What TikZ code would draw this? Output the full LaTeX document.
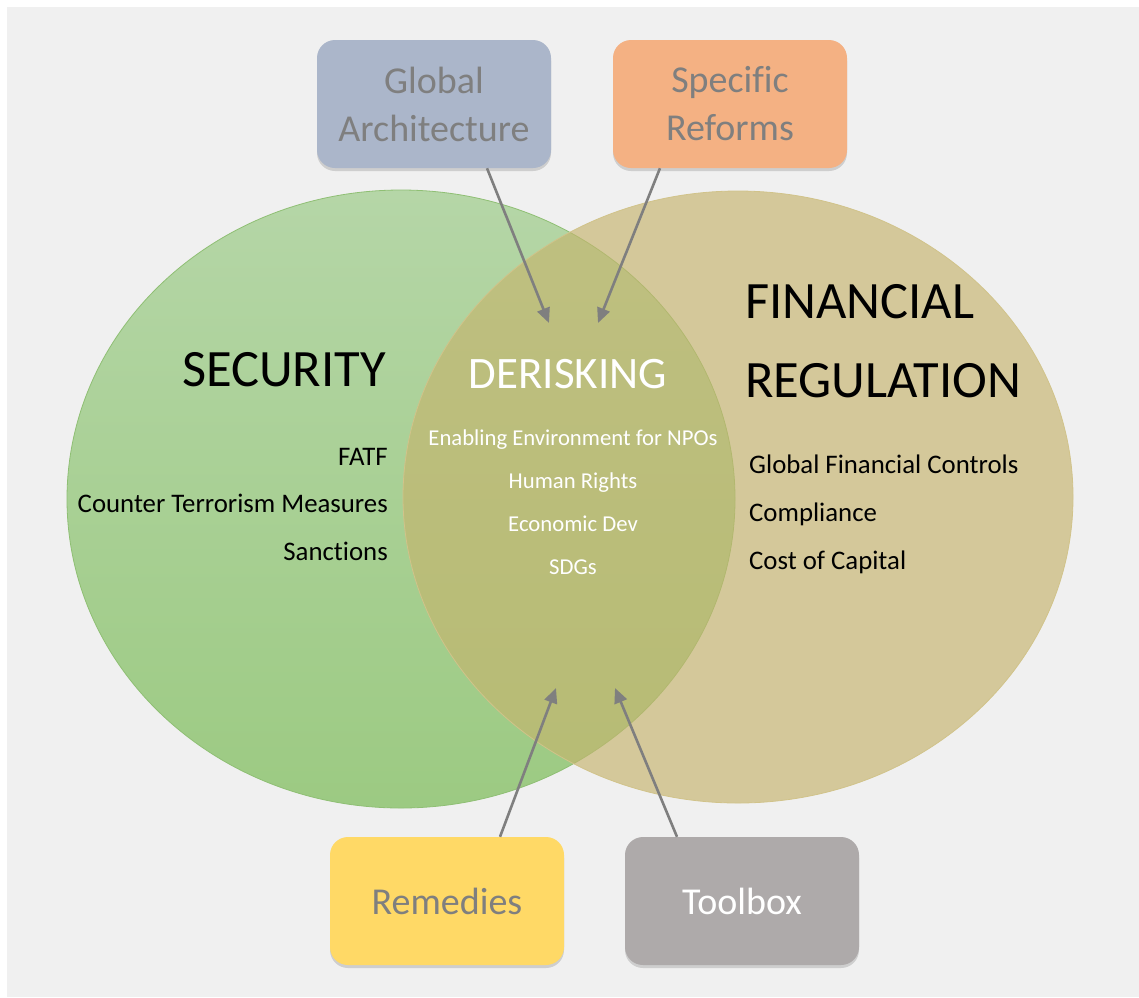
\documentclass[tikz,border=0pt]{standalone}
\usepackage{fontspec}
\setmainfont{Carlito}[Ligatures=NoCommon]
\usepackage{xcolor}
\usetikzlibrary{arrows.meta,shadows}

\definecolor{sectop}{HTML}{B5D6A7}
\definecolor{secbot}{HTML}{9CCA82}
\definecolor{secedge}{HTML}{8FBF74}
\definecolor{fintan}{HTML}{C5B46D}
\definecolor{bgray}{HTML}{F0F0F0}
\definecolor{archblue}{HTML}{ABB6CA}
\definecolor{reforange}{HTML}{F4B183}
\definecolor{remyellow}{HTML}{FFD966}
\definecolor{toolgray}{HTML}{AEAAAA}
\definecolor{txtgray}{HTML}{7F7F7F}

\tikzset{
  topicbox/.style={rounded corners=18pt, minimum width=234pt, minimum height=128pt,
    align=center, text=txtgray, font=\fontsize{38}{48}\selectfont,
    drop shadow={opacity=0.3, shadow xshift=0pt, shadow yshift=-3pt}},
  pointer/.style={draw=txtgray, line width=2.6pt, -{Triangle[length=15pt,width=13pt]}},
  bigword/.style={font=\fontsize{52.5}{52}\selectfont, inner sep=0pt},
  item/.style={font=\fontsize{26.8}{26}\selectfont, inner sep=0pt},
  smallitem/.style={font=\fontsize{22.7}{22}\selectfont, text=white, anchor=base, inner sep=0pt}
}

\begin{document}
\begin{tikzpicture}[x=1pt,y=-1pt]
			% fond
			\useasboundingbox (0,0) rectangle (1139,997);
			\fill[white] (0,0) rectangle (1139,997);
			\fill[bgray] (7,7) rectangle (1139,997);
			% les deux ellipses
			\shade[top color=sectop, bottom color=secbot, draw=secedge, line width=0.8pt]
			  (401,499) ellipse [x radius=334, y radius=309];
			\fill[fintan, fill opacity=0.65] (738,497) ellipse [x radius=335, y radius=306];
			\draw[fintan!80!white, line width=0.8pt] (738,497) ellipse [x radius=335, y radius=306];
			% titres
			\node[bigword, anchor=base] (sec) at (284,386) {SECURITY};
			\node[bigword, anchor=base, text=white, font=\fontsize{45}{45}\selectfont] (der) at (568,388) {DERISKING};
			\node[bigword, anchor=base west] (fin) at (745,318) {FINANCIAL};
			\node[bigword, anchor=base west] (reg) at (745,397) {REGULATION};
			% listes
			\node[item, anchor=base east] (fatf) at (388,465) {FATF};
			\node[item, anchor=base east] (ctm) at (388,512) {Counter Terrorism Measures};
			\node[item, anchor=base east] (sanc) at (388,560) {Sanctions};
			\node[item, anchor=base west] (gfc) at (749,473) {Global Financial Controls};
			\node[item, anchor=base west] (comp) at (749,521) {Compliance};
			\node[item, anchor=base west] (coc) at (749,569) {Cost of Capital};
			\node[smallitem] (npo) at (573,445) {Enabling Environment for NPOs};
			\node[smallitem] (hr) at (573,488) {Human Rights};
			\node[smallitem] (ecd) at (573,531) {Economic Dev};
			\node[smallitem] (sdg) at (573,574) {SDGs};
			% boites
			\node[topicbox, fill=archblue] (arch) at (434,104) {Global\\Architecture};
			\node[topicbox, fill=reforange] (reform) at (730,104) {Specific\\Reforms};
			\node[topicbox, fill=remyellow] (remedy) at (447,901) {Remedies};
			\node[topicbox, fill=toolgray, text=white] (tool) at (742,901) {Toolbox};
			% fleches
			\coordinate (tipA) at (549,323);
			\coordinate (tipB) at (598,323);
			\coordinate (tipC) at (556,688);
			\coordinate (tipD) at (615,688);
			\draw[pointer] ([xshift=53pt]arch.south) -- (tipA);
			\draw[pointer] ([xshift=-70pt]reform.south) -- (tipB);
			\draw[pointer] ([xshift=53pt]remedy.north) -- (tipC);
			\draw[pointer] ([xshift=-65pt]tool.north) -- (tipD);
\end{tikzpicture}
\end{document}
